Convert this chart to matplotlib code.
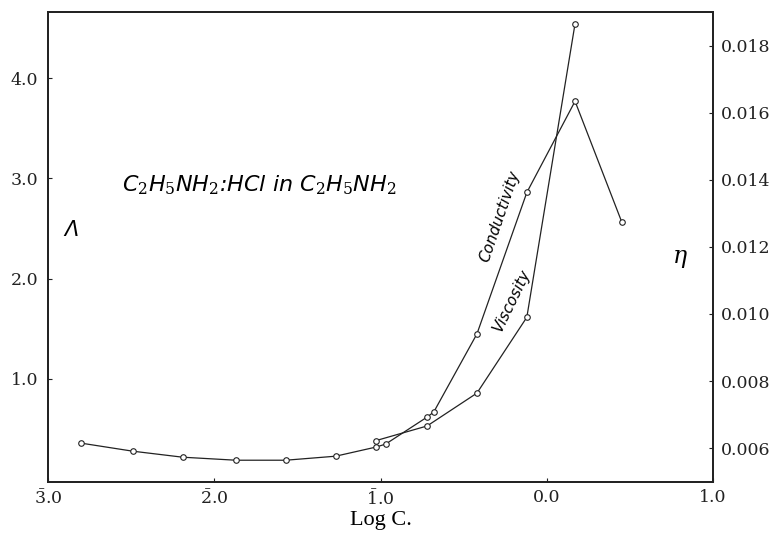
import matplotlib
matplotlib.use('Agg')
import matplotlib.pyplot as plt

plt.rcParams['font.family'] = ['DejaVu Serif', 'Liberation Serif']
plt.rcParams['mathtext.fontset'] = 'custom'
plt.rcParams['mathtext.rm'] = 'DejaVu Serif'
plt.rcParams['mathtext.it'] = 'DejaVu Sans:italic'

# log concentration and equivalent conductance (left axis)
cond_logc = [-2.80, -2.49, -2.19, -1.87, -1.57, -1.27, -1.03, -0.97, -0.72, -0.68, -0.42, -0.12, 0.17, 0.45]
cond_lambda = [0.36, 0.28, 0.22, 0.19, 0.19, 0.23, 0.32, 0.35, 0.62, 0.67, 1.45, 2.86, 3.77, 2.57]

# log concentration and viscosity (right axis)
visc_logc = [-1.03, -0.72, -0.42, -0.12, 0.17]
visc_eta = [0.00622, 0.00666, 0.00764, 0.00990, 0.01865]

x_ticks = [-3, -2, -1, 0, 1]
x_labels = [r'$\bar{3}$.0', r'$\bar{2}$.0', r'$\bar{1}$.0', '0.0', '1.0']
lam_ticks = [1, 2, 3, 4]
lam_labels = ['1.0', '2.0', '3.0', '4.0']
eta_ticks = [0.006, 0.008, 0.010, 0.012, 0.014, 0.016, 0.018]
eta_labels = ['0.006', '0.008', '0.010', '0.012', '0.014', '0.016', '0.018']


def style_axis(ax):
    for s in ax.spines.values():
        s.set_linewidth(1.3)
        s.set_color('#222222')
    ax.tick_params(direction='in', length=3, width=0.8, labelsize=12.5, pad=7, colors='#222222')
    return ax


fig = plt.figure(figsize=(7.78, 5.38), dpi=100)
ax = fig.add_axes([0.0617, 0.1047, 0.8548, 0.873])
ax2 = ax.twinx()
style_axis(ax)
style_axis(ax2)

line_kw = dict(color='#222222', lw=0.9, marker='o', markersize=4,
               markerfacecolor='white', markeredgewidth=0.8)
ax.plot(cond_logc, cond_lambda, **line_kw)
ax2.plot(visc_logc, visc_eta, **line_kw)

ax.set_xlim(-3, 1)
ax.set_ylim(-0.024, 4.66)
ax2.set_ylim(0.005, 0.019)

ax.set_xticks(x_ticks)
ax.set_xticklabels(x_labels)
ax.set_yticks(lam_ticks)
ax.set_yticklabels(lam_labels)
ax2.set_yticks(eta_ticks)
ax2.set_yticklabels(eta_labels)
ax.tick_params(axis='x', pad=5)
ax2.tick_params(axis='y', pad=6)

ax.set_xlabel('Log C.', fontsize=16, family='Liberation Serif', labelpad=2)

# annotations
ax.text(0.111, 0.632, r'$C_2H_5NH_2$:$HCl$ in $C_2H_5NH_2$', transform=ax.transAxes,
        fontsize=16, family='DejaVu Sans', style='italic', va='center', ha='left')
ax.text(0.035, 0.535, 'Λ', transform=ax.transAxes, fontsize=15,
        family='DejaVu Sans', style='italic', va='center', ha='center')
ax.text(0.95, 0.48, 'η', transform=ax.transAxes, fontsize=17,
        family='DejaVu Serif', style='italic', va='center', ha='center')
ax.text(-0.28, 2.62, 'Conductivity', rotation=71, fontsize=11, family='DejaVu Sans',
        style='italic', ha='center', va='center')
ax.text(-0.21, 1.78, 'Viscosity', rotation=64, fontsize=11, family='DejaVu Sans',
        style='italic', ha='center', va='center')

fig.savefig('out.png', dpi=100)
